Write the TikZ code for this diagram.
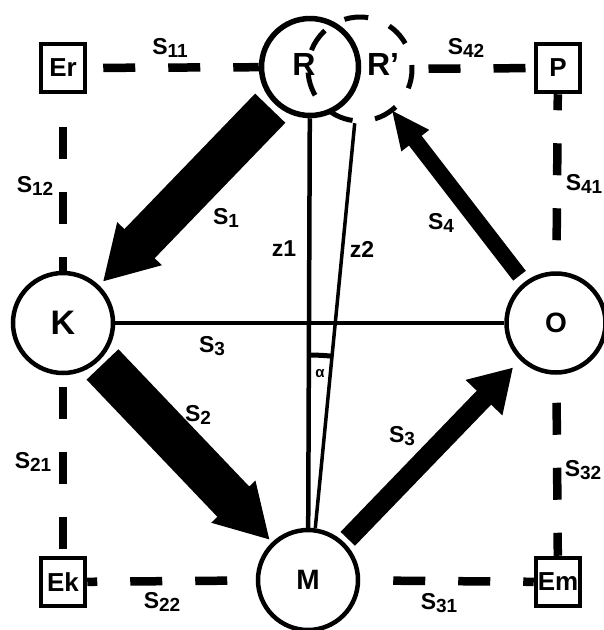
\documentclass[tikz,border=0pt]{standalone}
\usepackage{fontspec}
\setmainfont{Liberation Sans}
\usetikzlibrary{arrows.meta}
\newcommand{\snr}[1]{S{\fontsize{19pt}{19pt}\selectfont\raisebox{-3pt}{#1}}}
\tikzset{
	knoten/.style={
		circle,
		draw=black, line width=4.5pt,
		minimum size=100pt,
		inner sep=0pt,
		font=\fontsize{28pt}{28pt}\selectfont\bfseries},
	kasten/.style={
		rectangle,
		draw=black, line width=4.5pt,
		minimum width=44pt,
		minimum height=48pt,
		inner sep=0pt,
		font=\fontsize{26pt}{26pt}\selectfont\bfseries},
	strich/.style={draw, line width=8.5pt, dash pattern=on 32pt off 33pt},
	pfeil/.style={draw, line width=#1},
	marke/.style={inner sep=0pt, font=\fontsize{23pt}{23pt}\selectfont\bfseries},
}
\begin{document}
\begin{tikzpicture}[x=1pt, y=-1pt]
	\useasboundingbox (0,0) rectangle (604,630);
	\clip (0,0) rectangle (604,630);
	% Kreise
	\node[knoten, line width=5.5pt, minimum size=97pt] (R) at (310,67) {};
	\node[knoten, line width=5pt, minimum size=104pt, dash pattern=on 24pt off 22.7pt, dash phase=20pt] (Rs) at (360,69) {};
	\node[knoten, font=\fontsize{34pt}{34pt}\selectfont\bfseries] (K) at (63,323) {K};
	\node[knoten, minimum size=99pt] (O) at (556,323) {O};
	\node[knoten] (M) at (308,580) {M};
	\node[marke, font=\fontsize{32pt}{32pt}\selectfont\bfseries] (Rtxt) at (304,64) {R};
	\node[marke, font=\fontsize{32pt}{32pt}\selectfont\bfseries] (Rstxt) at (383,64) {R’};
	% Kaesten
	\node[kasten] (Er) at (63,68) {Er};
	\node[kasten] (P) at (558,68) {P};
	\node[kasten] (Ek) at (63,582) {Ek};
	\node[kasten] (Em) at (558,582) {Em};
	% gestrichelte Verbindungen
	\draw[strich, dash phase=49pt] (Er) -- (R);
	\draw[strich, dash phase=32pt] (Er) -- (K);
	\draw[strich, dash phase=53pt] (K) -- (Ek);
	\draw[strich, dash phase=22pt] (Ek) -- (M);
	\draw[strich, dash phase=32pt] (M) -- (Em);
	\draw[strich, dash phase=37pt] (O) -- (Em);
	\draw[strich, dash phase=16pt] (P) -- (O);
	\draw[strich, dash phase=51pt] (Rs) -- (P);
	% Pfeile
	\draw[pfeil=42pt, -{Triangle[length=53pt, width=58pt]}, shorten <=6pt, shorten >=5pt] (R) -- (K);
	\draw[pfeil=44pt, -{Triangle[length=53pt, width=57pt]}, shorten <=5pt, shorten >=3pt] (K) -- (M);
	\draw[pfeil=20pt, -{Triangle[length=42pt, width=48pt]}, shorten <=5pt, shorten >=10pt] (M) -- (O);
	\draw[pfeil=16pt, -{Triangle[length=39pt, width=32pt]}, shorten <=8pt, shorten >=-3pt] (O) -- (Rs);
	% Linien
	\draw[line width=4.5pt] (R) -- (M);
	\draw[line width=3.5pt] (Rs) -- (M.82);
	\draw[line width=4.5pt] (K) -- (O);
	\draw[line width=5pt] (308,355) arc[start angle=-90, end angle=-84.4, radius=247];
	\node[marke, font=\fontsize{15pt}{15pt}\selectfont\bfseries] (alpha) at (320,374) {α};
	% Beschriftungen
	\node[marke] (s11) at (170,48) {\snr{11}};
	\node[marke] (s12) at (35,186) {\snr{12}};
	\node[marke] (s42) at (466,48) {\snr{42}};
	\node[marke] (s41) at (584,184) {\snr{41}};
	\node[marke] (s1) at (226,218) {\snr{1}};
	\node[marke] (z1) at (284,249) {z1};
	\node[marke] (z2) at (362,249) {z2};
	\node[marke] (s4) at (441,223) {\snr{4}};
	\node[marke] (s3a) at (212,346) {\snr{3}};
	\node[marke] (s2) at (198,415) {\snr{2}};
	\node[marke] (s3b) at (402,436) {\snr{3}};
	\node[marke] (s21) at (33,462) {\snr{21}};
	\node[marke] (s32) at (583,470) {\snr{32}};
	\node[marke] (s22) at (162,602) {\snr{22}};
	\node[marke] (s31) at (439,603) {\snr{31}};
\end{tikzpicture}
\end{document}
